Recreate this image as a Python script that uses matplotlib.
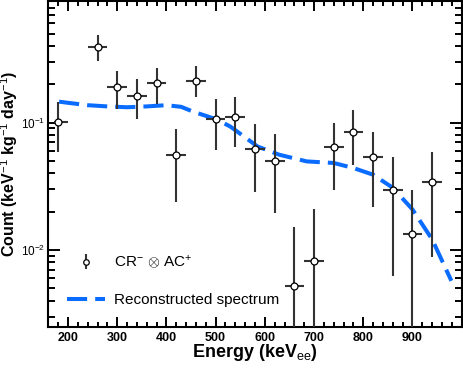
import numpy as np
import matplotlib
matplotlib.use('Agg')
import matplotlib.pyplot as plt

plt.rcParams['font.family'] = ['Liberation Sans', 'DejaVu Sans']
plt.rcParams['mathtext.fontset'] = 'custom'
plt.rcParams['mathtext.rm'] = 'Liberation Sans'
plt.rcParams['mathtext.it'] = 'Liberation Sans'
plt.rcParams['mathtext.bf'] = 'Liberation Sans:bold'

# measured spectrum (CR- x AC+), 40 keV bins
energy = [180, 260, 300, 340, 380, 420, 460, 500, 540, 580,
          620, 660, 700, 740, 780, 820, 860, 900, 940]
count = [0.102, 0.393, 0.189, 0.162, 0.203, 0.056, 0.213, 0.106, 0.110, 0.0624,
         0.0502, 0.00518, 0.00826, 0.0646, 0.0846, 0.0533, 0.0298, 0.0134, 0.0340]
count_hi = [0.146, 0.484, 0.254, 0.219, 0.266, 0.0888, 0.279, 0.152, 0.158, 0.0972,
            0.081, 0.0151, 0.0208, 0.100, 0.126, 0.085, 0.0537, 0.0294, 0.0593]
count_lo = [0.0584, 0.303, 0.128, 0.106, 0.139, 0.0237, 0.160, 0.0612, 0.0649, 0.0284,
            0.0196, 0.001, 0.001, 0.0294, 0.0468, 0.0217, 0.00627, 0.001, 0.00881]
bin_lo = [8] + [20] * 18
bin_hi = [20] * 19

# reconstructed spectrum
rec_energy = [182, 200, 240, 280, 320, 360, 400, 430, 454, 502, 530, 544,
              585, 629, 685, 740, 780, 820, 860, 900, 940, 979]
rec_count = [0.146, 0.143, 0.137, 0.134, 0.132, 0.134, 0.137, 0.133, 0.122, 0.106, 0.093, 0.085,
             0.065, 0.056, 0.0496, 0.0482, 0.044, 0.039, 0.0308, 0.0208, 0.0121, 0.00573]

energy = np.array(energy)
count = np.array(count)
yerr = [count - np.array(count_lo), np.array(count_hi) - count]
xerr = [bin_lo, bin_hi]

fig = plt.figure(figsize=(4.63, 3.68), dpi=100)
ax = fig.add_axes([0.1043, 0.1122, 0.8929, 0.885])

ax.errorbar(energy, count, yerr=yerr, xerr=xerr, fmt='o', color='#333333',
            elinewidth=1.5, markersize=5, markerfacecolor='white',
            markeredgecolor='black', markeredgewidth=0.9, zorder=3)
ax.plot(rec_energy, rec_count, color='#0a6cff', lw=2.9, dashes=(5, 2),
        solid_capstyle='butt', dash_capstyle='butt', zorder=2)

# legend proxies
h1 = ax.errorbar([], [], yerr=[], fmt='o', color='#333333', elinewidth=1.5,
                 capsize=3, capthick=1.5, markersize=4, markerfacecolor='white',
                 markeredgecolor='black', markeredgewidth=0.9)
h2, = ax.plot([], [], color='#0a6cff', lw=2.9, dashes=(5, 2))
leg = ax.legend([h1, h2], [r'CR$^{-}$ $\otimes$ AC$^{+}$', 'Reconstructed spectrum'],
                loc='lower left', bbox_to_anchor=(0.045, 0.06), frameon=False,
                fontsize=11, handlelength=2.5, handletextpad=0.6, labelspacing=1.45,
                borderpad=0, borderaxespad=0)

ax.set_yscale('log')
ax.set_xlim(160, 1000)
ax.set_ylim(0.0025, 0.9)
ax.set_xticks([200, 300, 400, 500, 600, 700, 800, 900])
ax.set_xticks(np.arange(160, 1001, 20), minor=True)

for s in ax.spines.values():
    s.set_linewidth(1.5)
ax.tick_params(which='both', direction='in', top=True, right=True, width=1.4)
ax.tick_params(axis='x', which='major', length=7.2, pad=3.5)
ax.tick_params(axis='x', which='minor', length=3.6)
ax.tick_params(axis='y', which='major', length=8.6, pad=2.5, labelsize=8.5)
ax.tick_params(axis='y', which='minor', length=4.7)
for lab in ax.get_xticklabels():
    lab.set_fontweight('bold')
    lab.set_fontsize(9)

ax.set_xlabel(r'Energy (keV$_{ee}$)', fontsize=13, fontweight='bold')
ax.set_ylabel(r'Count (keV$^{-1}$ kg$^{-1}$ day$^{-1}$)', fontsize=11.5, fontweight='bold')
ax.xaxis.set_label_coords(0.5, -0.048)
ax.yaxis.set_label_coords(-0.068, 0.5)

fig.savefig('out.png', dpi=100)
